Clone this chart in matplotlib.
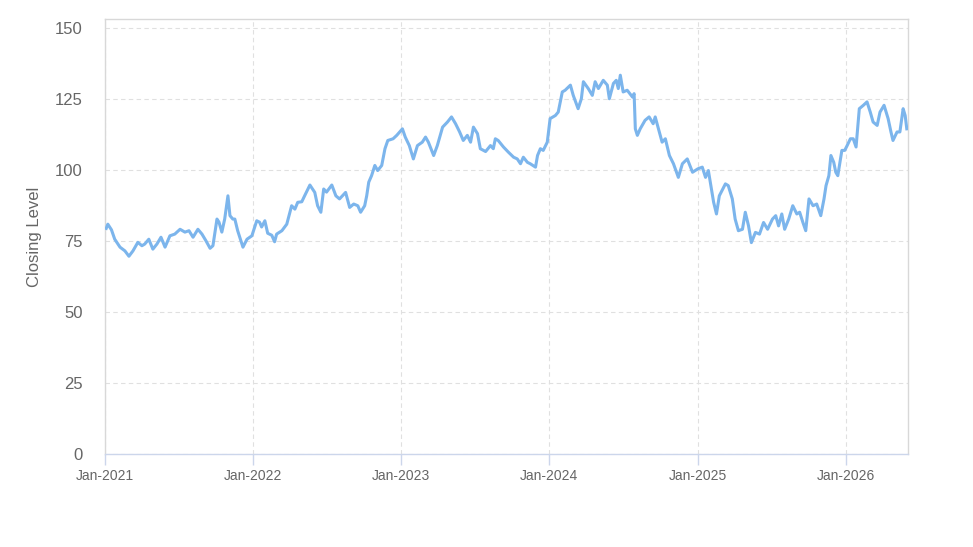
import matplotlib
matplotlib.use('Agg')
import matplotlib.pyplot as plt
import matplotlib.dates as mdates
import pandas as pd

# Closing level
dates = [
    '2021-01-04', '2021-01-08', '2021-01-17', '2021-01-25', '2021-02-07', '2021-02-19',
    '2021-03-01', '2021-03-11', '2021-03-23', '2021-04-02', '2021-04-09', '2021-04-19',
    '2021-04-29', '2021-05-09', '2021-05-19', '2021-05-29', '2021-06-10', '2021-06-22',
    '2021-07-05', '2021-07-17', '2021-07-27', '2021-08-06', '2021-08-18', '2021-08-28',
    '2021-09-07', '2021-09-17', '2021-09-24', '2021-10-04', '2021-10-09', '2021-10-16',
    '2021-10-23', '2021-10-31', '2021-11-05', '2021-11-12', '2021-11-17', '2021-11-24',
    '2021-12-07', '2021-12-17', '2021-12-29',
    '2022-01-10', '2022-01-17', '2022-01-22', '2022-01-30', '2022-02-06', '2022-02-16',
    '2022-02-23', '2022-02-28', '2022-03-13', '2022-03-25', '2022-04-06', '2022-04-14',
    '2022-04-21', '2022-05-01', '2022-05-08', '2022-05-21', '2022-06-02', '2022-06-09',
    '2022-06-17', '2022-06-24', '2022-07-01', '2022-07-14', '2022-07-24', '2022-08-02',
    '2022-08-17', '2022-08-27', '2022-09-06', '2022-09-16', '2022-09-23', '2022-10-03',
    '2022-10-08', '2022-10-13', '2022-10-20', '2022-10-28', '2022-11-04', '2022-11-14',
    '2022-11-22', '2022-11-29', '2022-12-12', '2022-12-21',
    '2023-01-04', '2023-01-11', '2023-01-21', '2023-01-31', '2023-02-10', '2023-02-22',
    '2023-03-02', '2023-03-09', '2023-03-22', '2023-03-31', '2023-04-13', '2023-04-25',
    '2023-05-05', '2023-05-15', '2023-05-25', '2023-06-03', '2023-06-13', '2023-06-21',
    '2023-06-28', '2023-07-08', '2023-07-15', '2023-07-28', '2023-08-09', '2023-08-16',
    '2023-08-21', '2023-08-28', '2023-09-10', '2023-09-22', '2023-10-05', '2023-10-14',
    '2023-10-22', '2023-10-29', '2023-11-08', '2023-11-15', '2023-11-28', '2023-12-03',
    '2023-12-10', '2023-12-17', '2023-12-27',
    '2024-01-03', '2024-01-16', '2024-01-23', '2024-02-02', '2024-02-09', '2024-02-22',
    '2024-02-29', '2024-03-12', '2024-03-20', '2024-03-25', '2024-04-06', '2024-04-16',
    '2024-04-23', '2024-05-01', '2024-05-13', '2024-05-23', '2024-05-28', '2024-06-07',
    '2024-06-14', '2024-06-19', '2024-06-24', '2024-07-01', '2024-07-11', '2024-07-24',
    '2024-07-28', '2024-07-31', '2024-08-05', '2024-08-12', '2024-08-24', '2024-09-03',
    '2024-09-13', '2024-09-18', '2024-09-26', '2024-10-05', '2024-10-13', '2024-10-23',
    '2024-11-02', '2024-11-14', '2024-11-24', '2024-12-06', '2024-12-19',
    '2025-01-01', '2025-01-12', '2025-01-20', '2025-01-27', '2025-02-09', '2025-02-16',
    '2025-02-23', '2025-03-10', '2025-03-17', '2025-03-27', '2025-04-03', '2025-04-11',
    '2025-04-21', '2025-04-28', '2025-05-06', '2025-05-13', '2025-05-23', '2025-06-02',
    '2025-06-12', '2025-06-22', '2025-07-04', '2025-07-12', '2025-07-19', '2025-07-27',
    '2025-08-03', '2025-08-13', '2025-08-23', '2025-09-02', '2025-09-09', '2025-09-17',
    '2025-09-24', '2025-10-02', '2025-10-12', '2025-10-21', '2025-10-31', '2025-11-08',
    '2025-11-13', '2025-11-20', '2025-11-25', '2025-12-02', '2025-12-07', '2025-12-12',
    '2025-12-22', '2025-12-29',
    '2026-01-04', '2026-01-12', '2026-01-19', '2026-01-26', '2026-02-03', '2026-02-13',
    '2026-02-22', '2026-03-02', '2026-03-09', '2026-03-19', '2026-03-26', '2026-04-05',
    '2026-04-15', '2026-04-22', '2026-04-27', '2026-05-07', '2026-05-14', '2026-05-22',
    '2026-05-27', '2026-05-31',
]
closing = [
    79.5, 81.0, 79.0, 75.7, 72.9, 71.6,
    69.7, 71.6, 74.6, 73.4, 74.0, 75.7,
    72.2, 74.0, 76.4, 72.9, 76.9, 77.5,
    79.2, 78.2, 78.7, 76.4, 79.2, 77.5,
    75.1, 72.5, 73.4, 82.8, 81.7, 78.2,
    82.8, 91.0, 84.0, 82.8, 82.8, 78.7,
    72.9, 75.7, 76.9,
    82.2, 81.7, 80.0, 82.2, 77.8, 77.1,
    74.8, 77.5, 78.7, 81.0, 87.5, 86.3,
    88.7, 88.9, 91.0, 94.8, 92.2, 87.5,
    85.2, 93.4, 92.3, 94.8, 91.0, 89.9,
    92.2, 86.9, 88.1, 87.5, 85.2, 87.5,
    91.0, 95.8, 98.1, 101.7, 99.9, 101.7,
    107.6, 110.5, 111.1, 112.3,
    114.6, 111.7, 108.7, 104.0, 108.7, 109.9,
    111.7, 109.9, 105.2, 108.7, 115.2, 117.0,
    118.8, 116.4, 113.5, 110.5, 112.3, 109.9,
    115.2, 112.9, 107.6, 106.6, 108.7, 107.6,
    111.1, 110.5, 108.2, 106.4, 104.6, 104.0,
    102.3, 104.6, 102.8, 102.3, 101.1, 105.2,
    107.6, 107.0, 109.9,
    118.2, 119.3, 120.5, 127.6, 128.2, 130.0,
    126.4, 121.7, 125.2, 131.2, 128.8, 126.4,
    131.2, 128.8, 131.7, 130.0, 125.2, 130.6,
    131.7, 128.8, 133.5, 127.6, 128.2, 125.8,
    127.0, 114.6, 112.3, 114.6, 117.6, 118.8,
    116.4, 118.8, 114.6, 109.9, 111.1, 105.2,
    102.3, 97.5, 102.3, 104.0, 99.3,
    100.5, 101.1, 97.5, 99.9, 88.7, 84.6,
    91.0, 95.2, 94.6, 89.9, 82.8, 78.7,
    79.2, 85.2, 80.4, 74.5, 78.1, 77.5,
    81.6, 79.2, 82.8, 84.0, 80.4, 84.6,
    79.2, 82.8, 87.5, 84.6, 85.2, 81.6,
    78.7, 89.9, 87.5, 88.1, 84.0, 89.9,
    94.6, 98.1, 105.2, 102.8, 99.3, 98.1,
    107.0, 107.0,
    108.7, 111.1, 111.1, 108.2, 121.7, 122.9,
    124.1, 120.5, 117.0, 115.8, 120.5, 122.9,
    118.2, 113.5, 110.5, 113.5, 113.5, 121.7,
    119.3, 114.6,
]
y_ticks = [0, 25, 50, 75, 100, 125, 150]

df = pd.DataFrame({'Date': pd.to_datetime(dates), 'Close': closing})

plt.rcParams['font.family'] = ['Liberation Sans', 'DejaVu Sans']

fig = plt.figure(figsize=(9.73, 5.47), dpi=100)
ax = fig.add_axes([0.1079, 0.1700, 0.8253, 0.7947])

ax.plot(df['Date'], df['Close'], color='#7cb5ec', linewidth=2.2,
        solid_joinstyle='round', zorder=3)

# Axes ranges
ax.set_xlim(pd.Timestamp('2021-01-01'), pd.Timestamp('2026-06-03'))
ax.set_ylim(0, 153.2)
ax.set_yticks(y_ticks)
ax.xaxis.set_major_locator(mdates.YearLocator())
ax.xaxis.set_major_formatter(mdates.DateFormatter('%b-%Y'))

# Grid & borders
ax.grid(True, color='#e0e0e0', linestyle=(0, (4, 3)), linewidth=0.8)
ax.set_axisbelow(True)
for name, spine in ax.spines.items():
    spine.set_color('#ccd6eb' if name == 'bottom' else '#d8d8d8')
    spine.set_linewidth(1.0)

ax.tick_params(axis='x', colors='#ccd6eb', length=8, width=1,
               labelcolor='#666666', labelsize=10, pad=3)
ax.tick_params(axis='y', length=0, labelcolor='#666666', labelsize=12, pad=16)

ax.set_ylabel('Closing Level', color='#666666', fontsize=12)
ax.yaxis.set_label_coords(-0.078, 0.5)

fig.savefig('out.png', dpi=100)
